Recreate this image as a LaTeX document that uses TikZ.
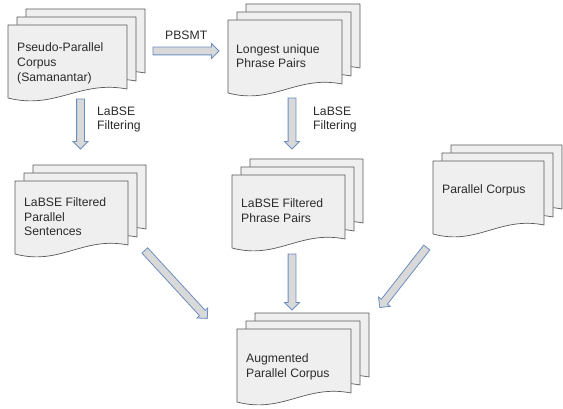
\documentclass[tikz,border=0pt]{standalone}
\usepackage{fontspec}
\setmainfont{Liberation Sans}
\usetikzlibrary{calc,shapes.arrows}
\definecolor{pagefill}{HTML}{EFEFEF}
\definecolor{pageline}{HTML}{595959}
\definecolor{arrowfill}{HTML}{D9D9D9}
\definecolor{arrowline}{HTML}{6C8EBF}
\definecolor{txt}{HTML}{2B2B2B}
\newcommand\docpage[2]{\begin{scope}[shift={(#1)}]\filldraw[pagestyle] (0,0) -- (#2,0) -- (#2,64) .. controls ({0.6*#2},55) and ({0.4*#2},85) .. (0,73) -- cycle;\end{scope}}
\newcommand\docstack[3]{\docpage{#1+18,#2-16}{#3}\docpage{#1+9,#2-8}{#3}\docpage{#1,#2}{#3}}
\newcommand\blockarrow[2]{\path let \p1=(#1), \p2=(#2), \n1={atan2(\y2-\y1,\x2-\x1)}, \n2={veclen(\x2-\x1,\y2-\y1)} in node[fatarrow, minimum height=\n2, rotate=\n1] at ($(#1)!0.5!(#2)$) {};}
\begin{document}
\begin{tikzpicture}[x=1pt,y=-1pt,
  pagestyle/.style={fill=pagefill, draw=pageline, line width=0.7pt, line join=round},
  lbl/.style={anchor=base west, align=left, inner sep=0pt, text=txt, font=\fontsize{12.2}{14.8}\selectfont},
  fatarrow/.style={single arrow, draw=arrowline, fill=arrowfill, line width=0.8pt, inner sep=3.5pt, single arrow head extend=3.5pt, single arrow tip angle=90, outer sep=0pt}]
\useasboundingbox (0,0) rectangle (563,409);
% document stacks
\docstack{8}{25}{119}
\docstack{228}{20}{114}
\docstack{15}{181}{113}
\docstack{232}{175}{113}
\docstack{433}{161}{111}
\docstack{237}{329}{114}
% texts (anchored at the baseline of the last line)
\node[lbl] (pseudo) at (17,81.5) {Pseudo-Parallel\\Corpus\\(Samanantar)};
\node[lbl] (longest) at (236,68) {Longest unique\\Phrase Pairs};
\node[lbl] (filtpar) at (24,236) {LaBSE Filtered\\Parallel\\Sentences};
\node[lbl] (filtphr) at (241,222.5) {LaBSE Filtered\\Phrase Pairs};
\node[lbl] (parallel) at (442,194) {Parallel Corpus};
\node[lbl] (augmented) at (246,377) {Augmented\\Parallel Corpus};
\node[lbl] (pbsmt) at (165,39.5) {PBSMT};
\node[lbl] (filt1) at (97,130) {LaBSE\\Filtering};
\node[lbl] (filt2) at (313,130) {LaBSE\\Filtering};
% arrow end points
\coordinate (a1s) at (151,51);   \coordinate (a1e) at (217,51);
\coordinate (a2s) at (80.5,97);  \coordinate (a2e) at (80.5,147);
\coordinate (a3s) at (292,96);   \coordinate (a3e) at (292,147);
\coordinate (a4s) at (143.5,249);\coordinate (a4e) at (206,317);
\coordinate (a5s) at (292,252);  \coordinate (a5e) at (292,308);
\coordinate (a6s) at (428,246);  \coordinate (a6e) at (381,306);
\blockarrow{a1s}{a1e}
\blockarrow{a2s}{a2e}
\blockarrow{a3s}{a3e}
\blockarrow{a4s}{a4e}
\blockarrow{a5s}{a5e}
\blockarrow{a6s}{a6e}
\end{tikzpicture}
\end{document}
